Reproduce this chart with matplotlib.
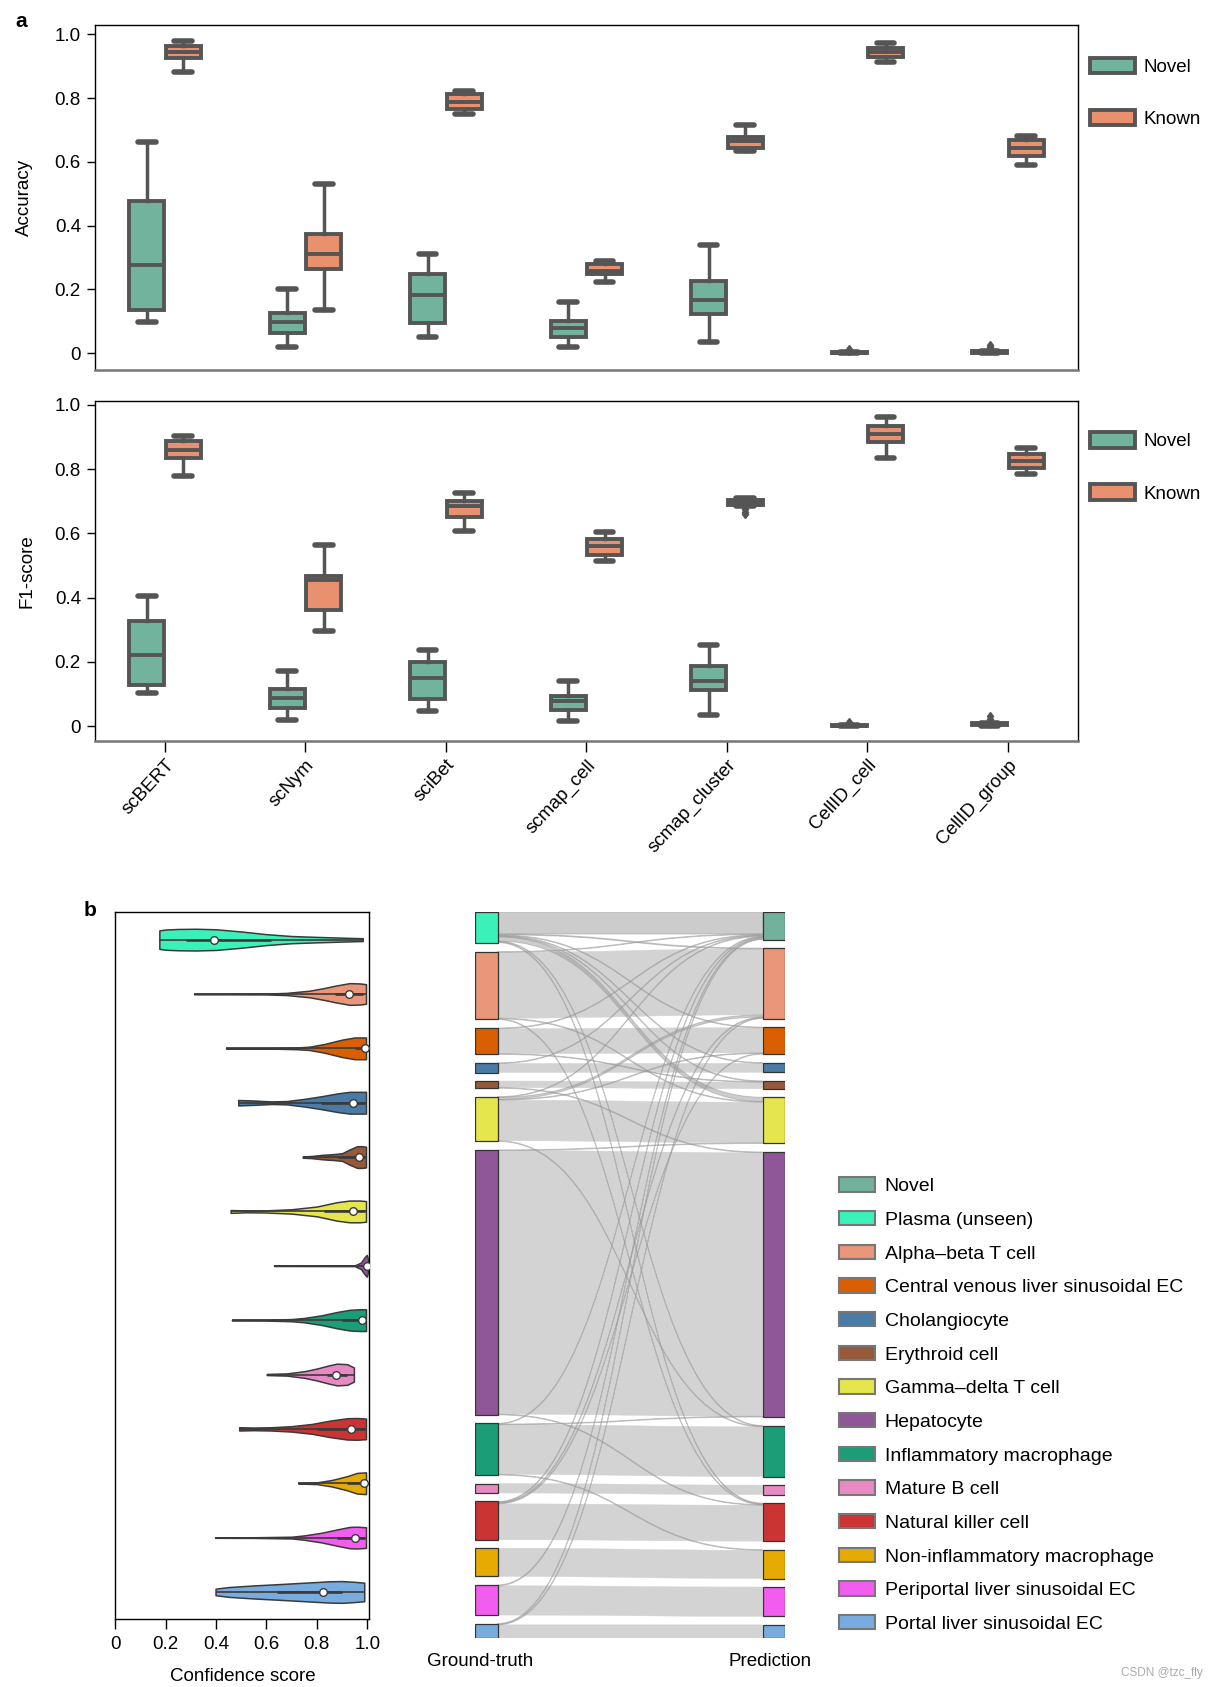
import matplotlib
matplotlib.use('Agg')
import matplotlib.pyplot as plt
from matplotlib.patches import Rectangle, PathPatch, Patch
from matplotlib.path import Path
import numpy as np

plt.rcParams['font.family'] = ['Liberation Sans', 'DejaVu Sans']

# ---------------- data ----------------
methods = ['scBERT', 'scNym', 'sciBet', 'scmap_cell', 'scmap_cluster', 'CellID_cell', 'CellID_group']
# box stats per method: (whislo, q1, med, q3, whishi)
acc_novel = [(0.098, 0.135, 0.277, 0.476, 0.662), (0.020, 0.064, 0.098, 0.125, 0.203),
             (0.050, 0.095, 0.182, 0.247, 0.311), (0.020, 0.050, 0.078, 0.101, 0.162),
             (0.034, 0.122, 0.166, 0.226, 0.338), (0.000, 0.000, 0.001, 0.003, 0.004),
             (0.000, 0.001, 0.003, 0.006, 0.008)]
acc_novel_fliers = [[], [], [], [], [], [0.008, 0.012], [0.012, 0.018, 0.025]]
acc_known = [(0.882, 0.926, 0.946, 0.963, 0.980), (0.135, 0.264, 0.311, 0.375, 0.530),
             (0.750, 0.767, 0.787, 0.814, 0.821), (0.223, 0.247, 0.257, 0.280, 0.290),
             (0.635, 0.645, 0.666, 0.679, 0.716), (0.912, 0.929, 0.946, 0.956, 0.973),
             (0.591, 0.618, 0.645, 0.669, 0.682)]
acc_known_fliers = [[], [], [], [], [], [], []]
f1_novel = [(0.104, 0.128, 0.221, 0.326, 0.406), (0.020, 0.057, 0.087, 0.114, 0.171),
            (0.047, 0.084, 0.151, 0.201, 0.238), (0.017, 0.050, 0.077, 0.094, 0.141),
            (0.034, 0.111, 0.141, 0.188, 0.252), (0.000, 0.000, 0.001, 0.003, 0.004),
            (0.000, 0.002, 0.005, 0.008, 0.010)]
f1_novel_fliers = [[], [], [], [], [], [0.008, 0.012], [0.015, 0.022, 0.030]]
f1_known = [(0.779, 0.836, 0.859, 0.889, 0.903), (0.295, 0.362, 0.456, 0.466, 0.564),
            (0.607, 0.651, 0.685, 0.701, 0.725), (0.513, 0.534, 0.560, 0.581, 0.604),
            (0.686, 0.689, 0.697, 0.703, 0.710), (0.836, 0.886, 0.909, 0.933, 0.963),
            (0.785, 0.805, 0.826, 0.846, 0.866)]
f1_known_fliers = [[], [], [], [], [0.675, 0.668, 0.660], [], []]

cell_types = ['Novel', 'Plasma (unseen)', 'Alpha\u2013beta T cell', 'Central venous liver sinusoidal EC',
              'Cholangiocyte', 'Erythroid cell', 'Gamma\u2013delta T cell', 'Hepatocyte',
              'Inflammatory macrophage', 'Mature B cell', 'Natural killer cell',
              'Non-inflammatory macrophage', 'Periportal liver sinusoidal EC', 'Portal liver sinusoidal EC']
cell_colors = ['#72b29d', '#3af2b9', '#e9967a', '#d95f02', '#4a7ba7', '#96593a', '#e5e64d',
               '#8f5797', '#1b9e77', '#e78ac3', '#cc3333', '#e6ab02', '#f25cef', '#78acdf']

# violin profiles (confidence value, relative half-width), ground-truth types
violin_x = [
    [0.175, 0.20, 0.25, 0.32, 0.40, 0.50, 0.60, 0.70, 0.80, 0.90, 0.982],
    [0.313, 0.45, 0.60, 0.68, 0.77, 0.83, 0.87, 0.93, 0.97, 0.995],
    [0.440, 0.55, 0.65, 0.72, 0.77, 0.83, 0.90, 0.95, 0.995],
    [0.488, 0.55, 0.62, 0.68, 0.75, 0.82, 0.88, 0.93, 0.995],
    [0.744, 0.78, 0.82, 0.87, 0.90, 0.93, 0.96, 0.98, 0.995],
    [0.458, 0.52, 0.60, 0.70, 0.80, 0.88, 0.93, 0.97, 0.995],
    [0.630, 0.95, 0.975, 0.99, 0.998, 1.003],
    [0.463, 0.60, 0.70, 0.75, 0.82, 0.88, 0.93, 0.97, 0.995],
    [0.601, 0.68, 0.75, 0.80, 0.85, 0.88, 0.92, 0.947],
    [0.492, 0.55, 0.62, 0.70, 0.78, 0.85, 0.92, 0.96, 0.995],
    [0.726, 0.80, 0.86, 0.92, 0.96, 0.995],
    [0.396, 0.55, 0.70, 0.75, 0.82, 0.88, 0.93, 0.96, 0.995],
    [0.398, 0.45, 0.55, 0.65, 0.75, 0.85, 0.90, 0.95, 0.988],
]
violin_w = [
    [0.85, 0.93, 0.98, 1.0, 0.95, 0.75, 0.50, 0.33, 0.25, 0.18, 0.13],
    [0.03, 0.03, 0.04, 0.10, 0.30, 0.55, 0.75, 1.0, 0.97, 0.90],
    [0.03, 0.03, 0.04, 0.08, 0.15, 0.40, 0.80, 1.0, 1.0],
    [0.25, 0.20, 0.12, 0.15, 0.35, 0.60, 0.85, 1.0, 1.0],
    [0.06, 0.10, 0.20, 0.28, 0.35, 0.70, 1.0, 1.0, 0.95],
    [0.13, 0.08, 0.10, 0.20, 0.45, 0.85, 1.0, 1.0, 0.95],
    [0.02, 0.03, 0.30, 0.80, 1.0, 0.6],
    [0.03, 0.04, 0.10, 0.20, 0.45, 0.75, 0.95, 1.0, 1.0],
    [0.05, 0.10, 0.30, 0.55, 0.85, 1.0, 0.95, 0.65],
    [0.15, 0.12, 0.15, 0.25, 0.45, 0.75, 0.98, 1.0, 0.95],
    [0.03, 0.08, 0.30, 0.65, 0.95, 1.0],
    [0.02, 0.03, 0.08, 0.20, 0.45, 0.75, 0.98, 1.0, 0.95],
    [0.30, 0.45, 0.60, 0.72, 0.85, 0.98, 1.0, 0.93, 0.85],
]
# (min, q1, median, q3, max)
violin_stats = [
    (0.175, 0.28, 0.392, 0.62, 0.982), (0.313, 0.87, 0.928, 0.985, 0.995),
    (0.440, 0.95, 0.990, 0.995, 0.995), (0.488, 0.815, 0.942, 0.99, 0.995),
    (0.744, 0.885, 0.967, 0.99, 0.995), (0.458, 0.83, 0.942, 0.99, 0.995),
    (0.630, 0.99, 0.998, 1.0, 1.0), (0.463, 0.90, 0.980, 0.995, 0.995),
    (0.601, 0.84, 0.876, 0.92, 0.947), (0.492, 0.80, 0.934, 0.99, 0.995),
    (0.726, 0.92, 0.986, 0.995, 0.995), (0.396, 0.88, 0.950, 0.99, 0.995),
    (0.398, 0.64, 0.823, 0.90, 0.988),
]

# sankey: ground-truth cell counts (left column, cell_types[1:])
gt_counts = [290, 630, 245, 90, 67, 415, 2460, 480, 88, 355, 262, 280, 135]
# misclassification flows: (ground-truth index in cell_types, predicted index in cell_types, cells)
mis_flows = [
    (1, 0, 205), (1, 2, 8), (1, 3, 6), (1, 4, 6), (1, 5, 6), (1, 6, 40), (1, 8, 6), (1, 10, 8),
    (2, 0, 6), (2, 6, 6), (2, 10, 6),
    (3, 0, 6), (3, 5, 6),
    (4, 0, 6),
    (5, 7, 6),
    (6, 0, 6), (6, 2, 20), (6, 3, 6), (6, 8, 6),
    (7, 6, 6), (7, 10, 6),
    (8, 0, 6), (8, 7, 6), (8, 11, 6),
    (10, 0, 8), (10, 2, 8), (10, 3, 6),
    (12, 0, 8),
    (13, 0, 6), (13, 2, 6),
]

# ---------------- figure ----------------
W, H = 1217, 1687
fig = plt.figure(figsize=(W / 100, H / 100), dpi=100)
DW, DH = 1130.0, 1566.0


def rect(x0, y0, x1, y1):
    return [x0 / DW, 1 - y1 / DH, (x1 - x0) / DW, (y1 - y0) / DH]


EDGE = '#555555'
NOVEL_C = '#72b39e'
KNOWN_C = '#e9916f'
FS = 13.5


def box_panel(ax, novel, nf, known, kf, ylabel, ylim, show_x, leg_y):
    pos = np.arange(len(methods))
    for stats_l, fl, off, col in ((novel, nf, -0.13, NOVEL_C), (known, kf, 0.13, KNOWN_C)):
        st = []
        for (lo, q1, med, q3, hi), f in zip(stats_l, fl):
            st.append(dict(whislo=lo, q1=q1, med=med, q3=q3, whishi=hi, fliers=f))
        ax.bxp(st, positions=pos + off, widths=0.25, patch_artist=True, showfliers=True,
               boxprops=dict(facecolor=col, edgecolor=EDGE, linewidth=2.8),
               medianprops=dict(color=EDGE, linewidth=2.8, solid_capstyle='butt'),
               whiskerprops=dict(color=EDGE, linewidth=2.5),
               capprops=dict(color=EDGE, linewidth=4, solid_capstyle='round'),
               flierprops=dict(marker='d', markersize=4.5, markerfacecolor=EDGE,
                               markeredgecolor=EDGE))
    ax.set_xlim(-0.5, len(methods) - 0.5)
    ax.set_ylim(*ylim)
    ax.set_yticks([0, 0.2, 0.4, 0.6, 0.8, 1.0])
    ax.set_yticklabels(['0', '0.2', '0.4', '0.6', '0.8', '1.0'], fontsize=FS)
    ax.set_ylabel(ylabel, fontsize=FS)
    ax.tick_params(axis='y', length=6, width=1, pad=4)
    if show_x:
        ax.set_xticks(pos)
        ax.set_xticklabels(methods, rotation=47, ha='right', rotation_mode='anchor', fontsize=FS)
        ax.tick_params(axis='x', length=8, width=1, pad=3)
    else:
        ax.set_xticks([])
    for s in ax.spines.values():
        s.set_linewidth(1.0)
    ax.spines['bottom'].set_color('#777777')
    ax.spines['bottom'].set_linewidth(1.8)
    handles = [Patch(facecolor=NOVEL_C, edgecolor=EDGE, linewidth=2.8, label='Novel'),
               Patch(facecolor=KNOWN_C, edgecolor=EDGE, linewidth=2.8, label='Known')]
    ax.legend(handles=handles, loc='upper left', bbox_to_anchor=(1.012, leg_y), frameon=False,
              fontsize=FS, handlelength=2.4, handleheight=0.9, labelspacing=1.82,
              handletextpad=0.45, borderpad=0, borderaxespad=0)


ax1 = fig.add_axes(rect(88, 23, 1001, 343))
box_panel(ax1, acc_novel, acc_novel_fliers, acc_known, acc_known_fliers, 'Accuracy',
          (-0.051, 1.030), False, 0.905)
ax1.yaxis.set_label_coords(-0.063, 0.5)

ax2 = fig.add_axes(rect(88, 372, 1001, 688))
box_panel(ax2, f1_novel, f1_novel_fliers, f1_known, f1_known_fliers, 'F1-score',
          (-0.047, 1.013), True, 0.908)
ax2.yaxis.set_label_coords(-0.060, 0.5)

fig.text(20 / DW, 1 - 20 / DH, 'a', fontsize=15, fontweight='bold', ha='center', va='center')
fig.text(84 / DW, 1 - 845 / DH, 'b', fontsize=15, fontweight='bold', ha='center', va='center')

# ---------------- violins ----------------
axv = fig.add_axes(rect(107, 847, 343, 1503))
MAXW = 0.2
for i, (xs, ws, st) in enumerate(zip(violin_x, violin_w, violin_stats)):
    p = i + 1
    xs = np.asarray(xs)
    ws = np.asarray(ws) * MAXW
    col = cell_colors[i + 1]
    axv.fill_between(xs, p - ws, p + ws, facecolor=col, edgecolor='#3a3a3a', linewidth=1.1, zorder=2)
    lo, q1, med, q3, hi = st
    axv.plot([lo, hi], [p, p], color='#3a3a3a', lw=1.2, zorder=3, solid_capstyle='butt')
    axv.plot([q1, q3], [p, p], color='#3a3a3a', lw=1.9, zorder=3, solid_capstyle='butt')
    axv.plot([med], [p], marker='o', markersize=5.5, markerfacecolor='white',
             markeredgecolor='#3a3a3a', markeredgewidth=1.0, zorder=4)
axv.set_ylim(13.5, 0.5)
axv.set_xlim(0, 1.0085)
axv.set_yticks([])
axv.set_xticks([0, 0.2, 0.4, 0.6, 0.8, 1.0])
axv.set_xticklabels(['0', '0.2', '0.4', '0.6', '0.8', '1.0'], fontsize=FS)
axv.tick_params(axis='x', length=7, width=1, pad=5)
axv.set_xlabel('Confidence score', fontsize=FS, labelpad=11)
for s in axv.spines.values():
    s.set_linewidth(1.0)

# ---------------- sankey ----------------
axs = fig.add_axes(rect(441, 846.5, 729, 1520.6))
axs.set_axis_off()
n_types = len(cell_types)
left_types = list(range(1, n_types))
right_types = [0] + list(range(2, n_types))
out_sum = {t: 0 for t in left_types}
for s, t, n in mis_flows:
    out_sum[s] += n
flows = []
for k, t in enumerate(left_types):
    if t in right_types:
        flows.append((t, t, gt_counts[k] - out_sum[t]))
flows += mis_flows
left_size = {t: gt_counts[k] for k, t in enumerate(left_types)}
right_size = {t: 0 for t in right_types}
for s, t, n in flows:
    right_size[t] += n

SPAN = 6741.0
NW = 21.0
XL0, XR1 = 0.0, 288.0
XL1, XR0 = XL0 + NW, XR1 - NW
axs.set_xlim(XL0, XR1)
axs.set_ylim(SPAN, 0)


def stack(order, sizes):
    gap = (SPAN - sum(sizes[t] for t in order)) / (len(order) - 1)
    tops, y = {}, 0.0
    for t in order:
        tops[t] = y
        y += sizes[t] + gap
    return tops


ltop = stack(left_types, left_size)
rtop = stack(right_types, right_size)
lcur = dict(ltop)
rcur = dict(rtop)
pos_l, pos_r = {}, {}
for s, t, n in sorted(flows, key=lambda f: (f[0], right_types.index(f[1]))):
    pos_l[(s, t)] = lcur[s]
    lcur[s] += n
for s, t, n in sorted(flows, key=lambda f: (right_types.index(f[1]), f[0])):
    pos_r[(s, t)] = rcur[t]
    rcur[t] += n

xm = (XL1 + XR0) / 2


def band(s, t, n):
    y0a = pos_l[(s, t)]
    y1a = pos_r[(s, t)]
    y0b, y1b = y0a + n, y1a + n
    verts = [(XL1, y0a), (xm, y0a), (xm, y1a), (XR0, y1a), (XR0, y1b), (xm, y1b), (xm, y0b),
             (XL1, y0b), (XL1, y0a)]
    codes = [Path.MOVETO, Path.CURVE4, Path.CURVE4, Path.CURVE4, Path.LINETO,
             Path.CURVE4, Path.CURVE4, Path.CURVE4, Path.CLOSEPOLY]
    return Path(verts, codes)


for s, t, n in flows:
    if s == t:
        axs.add_patch(PathPatch(band(s, t, n), facecolor='#d3d3d3', edgecolor='#d3d3d3',
                                linewidth=0.3, zorder=1))
for s, t, n in flows:
    if s != t:
        axs.add_patch(PathPatch(band(s, t, n), facecolor='#9a9a9a', edgecolor='#9a9a9a',
                                linewidth=0.7, alpha=0.5, zorder=2))

for t in left_types:
    axs.add_patch(Rectangle((XL0, ltop[t]), NW, left_size[t], facecolor=cell_colors[t],
                            edgecolor='#333333', linewidth=0.9, zorder=3))
for t in right_types:
    axs.add_patch(Rectangle((XR0, rtop[t]), NW, right_size[t], facecolor=cell_colors[t],
                            edgecolor='#333333', linewidth=0.9, zorder=3))

fig.text(446 / DW, 1 - 1542 / DH, 'Ground-truth', fontsize=FS, ha='center', va='center')
fig.text(715 / DW, 1 - 1542 / DH, 'Prediction', fontsize=FS, ha='center', va='center')

# legend for cell types
handles = [Patch(facecolor=c, edgecolor='#777777', linewidth=1.5, label=l)
           for l, c in zip(cell_types, cell_colors)]
fig.legend(handles=handles, loc='upper left', bbox_to_anchor=(779 / DW, 1 - 1093 / DH),
           frameon=False, fontsize=14, handlelength=1.85, handleheight=0.75,
           labelspacing=0.81, handletextpad=0.5, borderpad=0, borderaxespad=0)

fig.text(1117 / DW, 1 - 1553 / DH, 'CSDN @tzc_fly', fontsize=8.5, color='#aaaaaa',
         ha='right', va='center')

fig.savefig('out.png', dpi=100)
